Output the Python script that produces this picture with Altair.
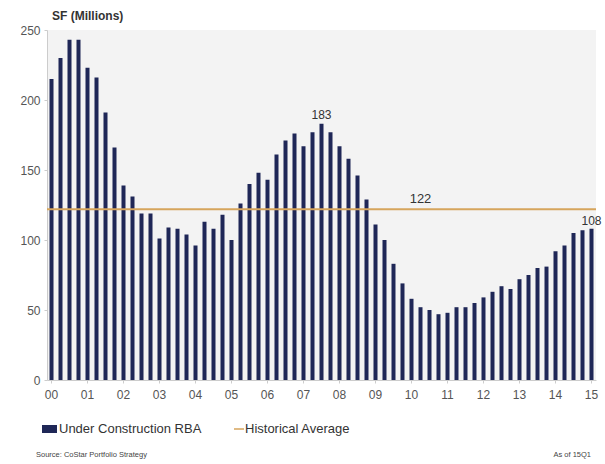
import altair as alt
import pandas as pd

# Quarterly under-construction RBA, 2000 Q1 .. 2015 Q1 (SF millions)
quarters = [f"{y:02d}Q{q}" for y in range(0, 15) for q in range(1, 5)] + ["15Q1"]
values = [
    215, 230, 243, 243, 223, 216, 191, 166, 139, 131, 119, 119,
    101, 109, 108, 104, 96, 113, 108, 118, 100, 126, 140, 148,
    143, 161, 171, 176, 167, 177, 183, 177, 167, 158, 146, 129,
    111, 100, 83, 69, 58, 52, 50, 47, 48, 52, 52, 55,
    59, 63, 67, 65, 72, 75, 80, 81, 92, 96, 105, 107, 108,
]
hist_avg = 122
year_ticks = [f"{y:02d}Q1" for y in range(0, 16)]
peak_q, peak_v = ["07Q3"], [183]
last_q, last_v = ["15Q1"], [108]

df = pd.DataFrame({"q": quarters, "v": values})
avg_df = pd.DataFrame({"avg": [hist_avg], "label": [str(hist_avg)], "q": ["10Q2"]})
peak_df = pd.DataFrame({"q": peak_q, "v": peak_v, "t": [str(v) for v in peak_v]})
last_df = pd.DataFrame({"q": last_q, "v": last_v, "t": [str(v) for v in last_v]})

FONT = "Liberation Sans"
W, H = 549, 350

xscale = alt.Scale(domain=quarters, paddingInner=0.5, paddingOuter=0.25)
yscale = alt.Scale(domain=[0, 250])

bars = alt.Chart(df).mark_bar(color="#1f2757", size=4).encode(
    x=alt.X("q:O", scale=xscale, sort=None,
            axis=alt.Axis(values=year_ticks, labelExpr="slice(datum.value, 0, 2)",
                          labelAngle=0, title=None, labelFontSize=12, labelColor="#555555",
                          labelFont=FONT, labelPadding=6, tickSize=3, tickColor="#cccccc",
                          domainColor="#cccccc")),
    y=alt.Y("v:Q", scale=yscale,
            axis=alt.Axis(values=[0, 50, 100, 150, 200, 250], title=None, grid=False,
                          labelFontSize=12, labelColor="#555555", labelFont=FONT,
                          labelPadding=4, tickSize=3, tickColor="#cccccc",
                          domainColor="#cccccc")),
)

avg_line = alt.Chart(avg_df).mark_rule(color="#d6a55c", strokeWidth=2).encode(
    y=alt.Y("avg:Q", scale=yscale),
    x=alt.value(0), x2=alt.value(W),
)

avg_text = alt.Chart(avg_df).mark_text(
    font=FONT, fontSize=13, color="#333333", baseline="bottom", dy=-3
).encode(
    x=alt.X("q:O", scale=xscale, sort=None),
    y=alt.Y("avg:Q", scale=yscale),
    text="label:N",
)

peak_txt = alt.Chart(peak_df).mark_text(
    font=FONT, fontSize=12, color="#333333", baseline="bottom", dy=-2
).encode(
    x=alt.X("q:O", scale=xscale, sort=None),
    y=alt.Y("v:Q", scale=yscale),
    text="t:N",
)
last_txt = alt.Chart(last_df).mark_text(
    font=FONT, fontSize=12, color="#333333", baseline="bottom", dy=-1, dx=10, align="right"
).encode(
    x=alt.X("q:O", scale=xscale, sort=None),
    y=alt.Y("v:Q", scale=yscale),
    text="t:N",
)

title_txt = alt.Chart(pd.DataFrame({"t": ["SF (Millions)"]})).mark_text(
    font=FONT, fontSize=12, fontWeight="bold", color="#333333", align="left", baseline="middle"
).encode(x=alt.value(5), y=alt.value(-14), text="t:N")

leg_box = alt.Chart(pd.DataFrame({"k": [1]})).mark_rect(color="#1f2757").encode(
    x=alt.value(-5), x2=alt.value(10), y=alt.value(395), y2=alt.value(403)
)
leg_line = alt.Chart(pd.DataFrame({"k": [1]})).mark_rule(color="#d6a55c", strokeWidth=1.5).encode(
    x=alt.value(187), x2=alt.value(197), y=alt.value(399)
)
leg_t1 = alt.Chart(pd.DataFrame({"t": ["Under Construction RBA"]})).mark_text(
    font=FONT, fontSize=13, color="#333333", align="left", baseline="middle"
).encode(x=alt.value(12), y=alt.value(399), text="t:N")
leg_t2 = alt.Chart(pd.DataFrame({"t": ["Historical Average"]})).mark_text(
    font=FONT, fontSize=13, color="#333333", align="left", baseline="middle"
).encode(x=alt.value(198), y=alt.value(399), text="t:N")

src = alt.Chart(pd.DataFrame({"t": ["Source: CoStar Portfolio Strategy"]})).mark_text(
    font=FONT, fontSize=7.5, color="#444444", align="left", baseline="middle"
).encode(x=alt.value(-11), y=alt.value(425), text="t:N")
asof = alt.Chart(pd.DataFrame({"t": ["As of 15Q1"]})).mark_text(
    font=FONT, fontSize=7.5, color="#444444", align="right", baseline="middle"
).encode(x=alt.value(544), y=alt.value(425), text="t:N")

chart = alt.layer(
    bars, avg_line, avg_text, peak_txt, last_txt, title_txt,
    leg_box, leg_line, leg_t1, leg_t2, src, asof
).properties(
    width=W, height=H,
    autosize=alt.AutoSizeParams(type="none"),
    padding={"left": 47, "top": 30, "right": 9, "bottom": 84},
    background="white",
).configure_view(fill="#f3f3f3", stroke=None)

chart.save("out.html", embed_options={"renderer": "svg", "actions": False})
